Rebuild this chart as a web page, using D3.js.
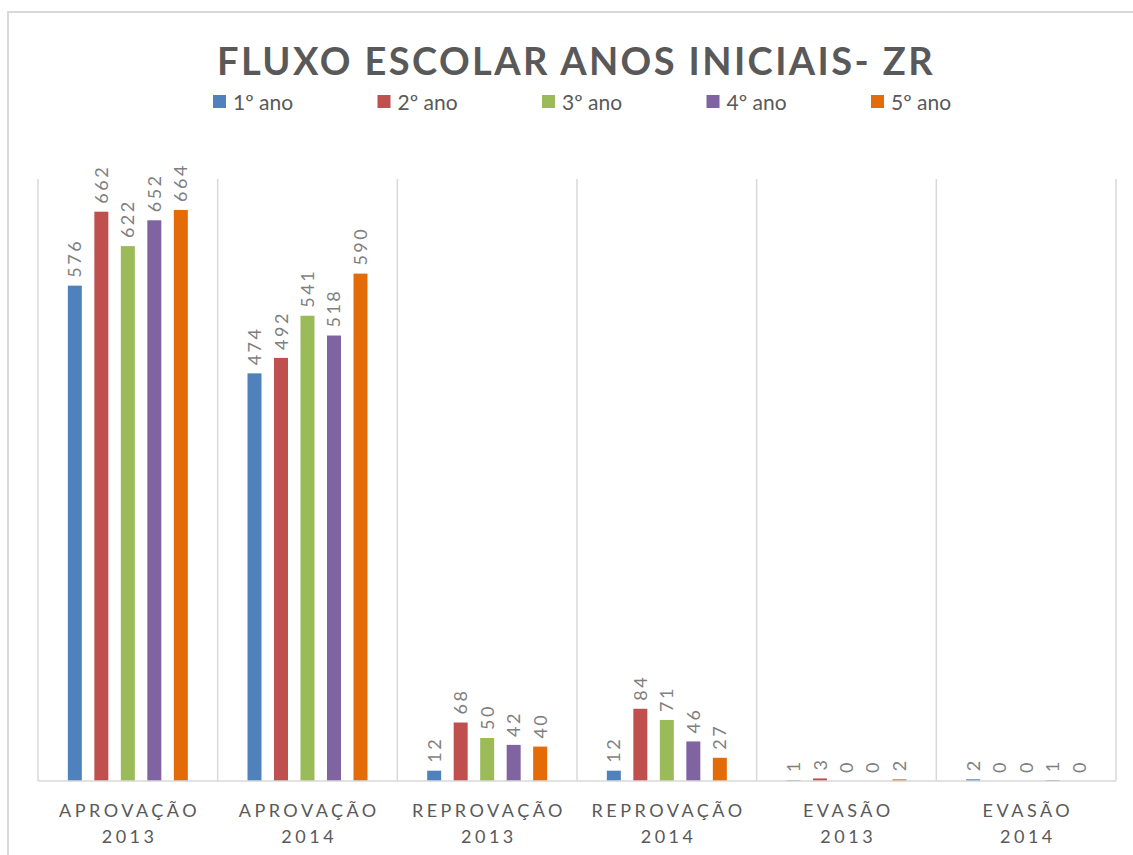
<!DOCTYPE html>
<html>
<head>
<meta charset="utf-8">
<title>Fluxo escolar</title>
<style>
  html, body { margin: 0; padding: 0; background: #fff; }
  svg { display: block; font-family: Lato, "Open Sans", "Liberation Sans", sans-serif; }
  .frame { fill: none; stroke: #d9d9d9; stroke-width: 2; }
  .grid line { stroke: #d9d9d9; stroke-width: 1.5; }
  .title { fill: #595959; font-size: 38px; font-weight: bold; letter-spacing: 2.4px; }
  .legend text { fill: #595959; font-size: 21px; }
  .value { fill: #7f7f7f; font-size: 18px; letter-spacing: 2.5px; }
  .cat { fill: #595959; font-size: 18px; letter-spacing: 3.5px; }
</style>
<script src="https://cdn.jsdelivr.net/npm/d3@7"></script>
</head>
<body>
<div id="main"></div>
<script>
var categories = [["APROVAÇÃO", "2013"], ["APROVAÇÃO", "2014"], ["REPROVAÇÃO", "2013"],
                  ["REPROVAÇÃO", "2014"], ["EVASÃO", "2013"], ["EVASÃO", "2014"]];
var seriesNames = ["1º ano", "2º ano", "3º ano", "4º ano", "5º ano"];
var colors = ["#4f81bd", "#c0504d", "#9bbb59", "#8064a2", "#e36c09"];
var ano1 = [576, 474, 12, 12, 1, 2];
var ano2 = [662, 492, 68, 84, 3, 0];
var ano3 = [622, 541, 50, 71, 0, 0];
var ano4 = [652, 518, 42, 46, 0, 1];
var ano5 = [664, 590, 40, 27, 2, 0];
var series = [ano1, ano2, ano3, ano4, ano5];

var width = 1133, height = 855;
var plot = { left: 38, right: 1116, top: 179, bottom: 781 };

var svg = d3.select("#main").append("svg")
    .attr("width", width)
    .attr("height", height);

svg.append("rect").attr("class", "frame")
    .attr("x", 8).attr("y", 12).attr("width", 1140).attr("height", 860);

var x0 = d3.scaleBand()
    .domain(d3.range(categories.length))
    .range([plot.left, plot.right]);

var x1 = d3.scaleBand()
    .domain(d3.range(seriesNames.length))
    .range([0, x0.bandwidth()])
    .paddingInner(0.472)
    .paddingOuter(1.126);

var y = d3.scaleLinear().domain([0, 700]).range([plot.bottom, plot.top]);

// vertical gridlines between categories
var grid = svg.append("g").attr("class", "grid");
grid.selectAll("line")
    .data(d3.range(categories.length + 1))
    .enter().append("line")
    .attr("x1", function(i) { return i < categories.length ? x0(i) : plot.right; })
    .attr("x2", function(i) { return i < categories.length ? x0(i) : plot.right; })
    .attr("y1", plot.top)
    .attr("y2", plot.bottom);

// bars
var groups = svg.selectAll("g.series")
    .data(series)
    .enter().append("g")
    .attr("class", "series")
    .attr("fill", function(d, i) { return colors[i]; });

groups.each(function(vals, s) {
    var g = d3.select(this);
    g.selectAll("rect")
        .data(vals)
        .enter().append("rect")
        .attr("x", function(d, c) { return x0(c) + x1(s); })
        .attr("y", function(d) { return y(d); })
        .attr("width", x1.bandwidth())
        .attr("height", function(d) { return y(0) - y(d); });

    g.selectAll("text")
        .data(vals)
        .enter().append("text")
        .attr("class", "value")
        .attr("transform", function(d, c) {
            var cx = x0(c) + x1(s) + x1.bandwidth() / 2 + 6.5;
            return "translate(" + cx + "," + (y(d) - 8) + ") rotate(-90)";
        })
        .text(function(d) { return d; });
});

// x axis line
svg.append("line")
    .attr("x1", plot.left).attr("x2", plot.right)
    .attr("y1", plot.bottom).attr("y2", plot.bottom)
    .attr("stroke", "#d9d9d9").attr("stroke-width", 1.5);

// category labels
var cats = svg.selectAll("text.cat")
    .data(categories)
    .enter().append("text")
    .attr("class", "cat")
    .attr("text-anchor", "middle");
cats.append("tspan")
    .attr("x", function(d, i) { return x0(i) + x0.bandwidth() / 2 + 1.75; })
    .attr("y", 817)
    .text(function(d) { return d[0]; });
cats.append("tspan")
    .attr("x", function(d, i) { return x0(i) + x0.bandwidth() / 2 + 1.75; })
    .attr("y", 843)
    .text(function(d) { return d[1]; });

// title
svg.append("text")
    .attr("class", "title")
    .attr("x", 576)
    .attr("y", 75)
    .attr("text-anchor", "middle")
    .text("FLUXO ESCOLAR ANOS INICIAIS- ZR");

// legend
var legend = svg.append("g").attr("class", "legend")
    .selectAll("g")
    .data(seriesNames)
    .enter().append("g")
    .attr("transform", function(d, i) { return "translate(" + (213 + i * 164.5) + ",95)"; });
legend.append("rect")
    .attr("width", 13).attr("height", 13)
    .attr("fill", function(d, i) { return colors[i]; });
legend.append("text")
    .attr("x", 20)
    .attr("y", 15)
    .text(function(d) { return d; });
</script>
</body>
</html>
